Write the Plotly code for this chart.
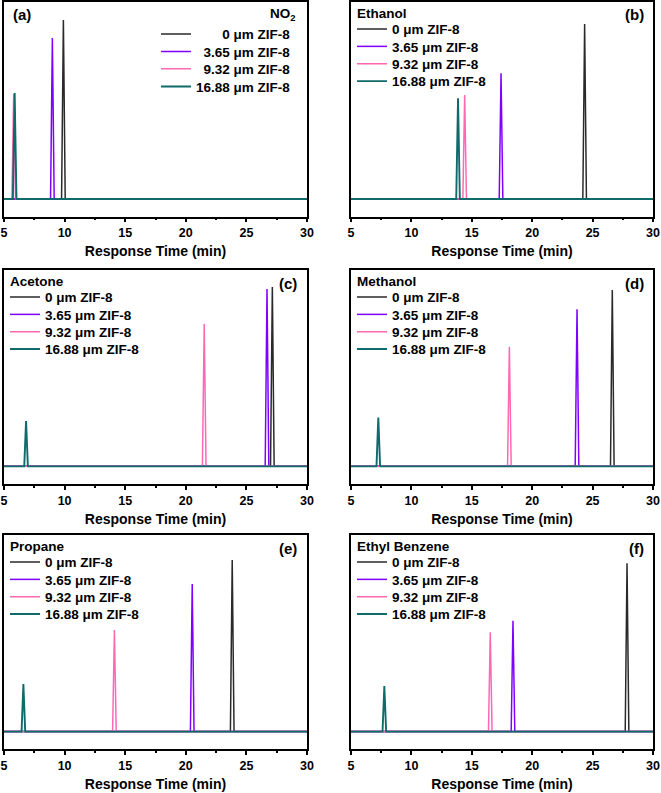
import plotly.graph_objects as go

# ---------------- data ----------------
series_names = ["0 μm ZIF-8", "3.65 μm ZIF-8", "9.32 μm ZIF-8", "16.88 μm ZIF-8"]
series_colors = ["#2a2a2a", "#8000ff", "#ff69b4", "#0f6a6a"]
series_widths = [1.5, 1.5, 1.5, 1.9]

panel_gases = ["NO<sub>2</sub>", "Ethanol", "Acetone", "Methanol", "Propane", "Ethyl Benzene"]
panel_letters = ["(a)", "(b)", "(c)", "(d)", "(e)", "(f)"]

# peak retention times (min) for 0, 3.65, 9.32, 16.88 um ZIF-8
no2_times = [9.90, 8.99, 5.80, 5.88]
ethanol_times = [24.34, 17.42, 14.41, 13.86]
acetone_times = [27.14, 26.70, 21.52, 6.82]
methanol_times = [26.63, 23.71, 18.11, 7.26]
propane_times = [23.83, 20.53, 14.11, 6.60]
ethylbenzene_times = [27.85, 18.41, 16.53, 7.76]

# peak intensities (normalised, a.u.)
no2_heights = [0.909, 0.817, 0.533, 0.538]
ethanol_heights = [0.888, 0.638, 0.528, 0.511]
acetone_heights = [0.913, 0.903, 0.725, 0.231]
methanol_heights = [0.898, 0.800, 0.609, 0.248]
propane_heights = [0.873, 0.751, 0.517, 0.242]
ethylbenzene_heights = [0.856, 0.564, 0.505, 0.232]

x_start, x_end = 5, 30
x_ticks = [5, 10, 15, 20, 25, 30]

all_times = [no2_times, ethanol_times, acetone_times, methanol_times, propane_times, ethylbenzene_times]
all_heights = [no2_heights, ethanol_heights, acetone_heights, methanol_heights, propane_heights, ethylbenzene_heights]

# ---------------- layout geometry (pixels) ----------------
W, H = 661, 793
cols_px = [(4, 307), (351, 653)]
rows_px = [(2, 216.7), (270, 484), (535, 749.3)]
half_w = 0.15
FONT = "Liberation Sans"
LEG_FS = 13.5

# legend entry centre offsets below panel top (px)
entry_dy_left = [27.2, 44.6, 61.9, 79.3]
entry_dy_a = [32.3, 49.7, 67.0, 84.7]
pad_a = ["\u2007\u2007\u2007\u2008", "\u2007", "\u2007", ""]

fig = go.Figure()
layout = dict(
    width=W, height=H, margin=dict(l=0, r=0, t=0, b=0, autoexpand=False),
    paper_bgcolor="white", plot_bgcolor="white", showlegend=True,
)

annotations = []
leg_count = 0
for p in range(6):
    r, c = divmod(p, 2)
    ax = "" if p == 0 else str(p + 1)
    xl, xr = cols_px[c]
    yt, yb = rows_px[r]
    xdom = [xl / W, xr / W]
    ydom = [1 - yb / H, 1 - yt / H]
    for i in range(4):
        leg_count += 1
        legname = "legend" if leg_count == 1 else f"legend{leg_count}"
        t = all_times[p][i]
        h = all_heights[p][i]
        xs = [x_start, t - half_w, t, t + half_w, x_end]
        ys = [0, 0, h, 0, 0]
        name = series_names[i]
        if p == 0:
            name = pad_a[i] + name
            lx = 156
            ly = yt + entry_dy_a[i]
        else:
            lx = xl + 1
            ly = yt + entry_dy_left[i]
        fig.add_trace(go.Scatter(
            x=xs, y=ys, mode="lines", name=name,
            line=dict(color=series_colors[i], width=series_widths[i]),
            xaxis="x" + ax, yaxis="y" + ax, legend=legname,
            hoverinfo="skip",
        ))
        layout[legname] = dict(
            x=lx / W, xanchor="left", y=1 - ly / H, yanchor="middle",
            bgcolor="rgba(0,0,0,0)", borderwidth=0, itemwidth=30,
            font=dict(family=FONT, size=LEG_FS, color="black", weight="bold"),
            itemclick=False, itemdoubleclick=False,
        )
    layout["xaxis" + ax] = dict(
        domain=xdom, anchor="y" + ax, range=[x_start, x_end], automargin=False,
        tickvals=x_ticks, ticks="outside", ticklen=4, tickwidth=1.5,
        tickcolor="black",
        minor=dict(dtick=2.5, tick0=5, ticks="outside", ticklen=2, tickwidth=1.5, tickcolor="black"),
        showline=True, linewidth=1.5, linecolor="black", mirror=True,
        showgrid=False, zeroline=False,
        tickfont=dict(family=FONT, size=12.5, color="black", weight="bold"),
        title=dict(text="Response Time (min)", standoff=7,
                   font=dict(family=FONT, size=14, color="black", weight="bold")),
    )
    layout["yaxis" + ax] = dict(
        domain=ydom, anchor="x" + ax, range=[-0.09, 1.0], automargin=False,
        showticklabels=False, ticks="", showgrid=False, zeroline=False,
        showline=True, linewidth=1.5, linecolor="black", mirror=True,
    )
    title_font = dict(family=FONT, size=LEG_FS, color="black", weight="bold")
    letter_font = dict(family=FONT, size=15, color="black", weight="bold")
    if p == 0:
        annotations.append(dict(
            text=panel_gases[p], xref="paper", yref="paper",
            x=298 / W, y=1 - (yt + 13) / H, xanchor="right", yanchor="middle",
            showarrow=False, font=title_font))
        annotations.append(dict(
            text=panel_letters[p], xref="x domain", yref="y domain",
            x=0.022, y=1 - 13 / (yb - yt), xanchor="left", yanchor="middle",
            showarrow=False, font=letter_font))
    else:
        annotations.append(dict(
            text=panel_gases[p], xref="paper", yref="paper",
            x=(xl + 4) / W, y=1 - (yt + 11.8) / H, xanchor="left", yanchor="middle",
            showarrow=False, font=title_font))
        annotations.append(dict(
            text=panel_letters[p], xref=f"x{ax} domain", yref=f"y{ax} domain",
            x=0.977 if c == 1 else 0.974, y=1 - 13 / (yb - yt), xanchor="right", yanchor="middle",
            showarrow=False, font=letter_font))

layout["annotations"] = annotations
fig.update_layout(**layout)

fig.write_html("out.html", config={"displayModeBar": False},
               post_script="document.body.style.margin='0';document.body.style.overflow='hidden';")
